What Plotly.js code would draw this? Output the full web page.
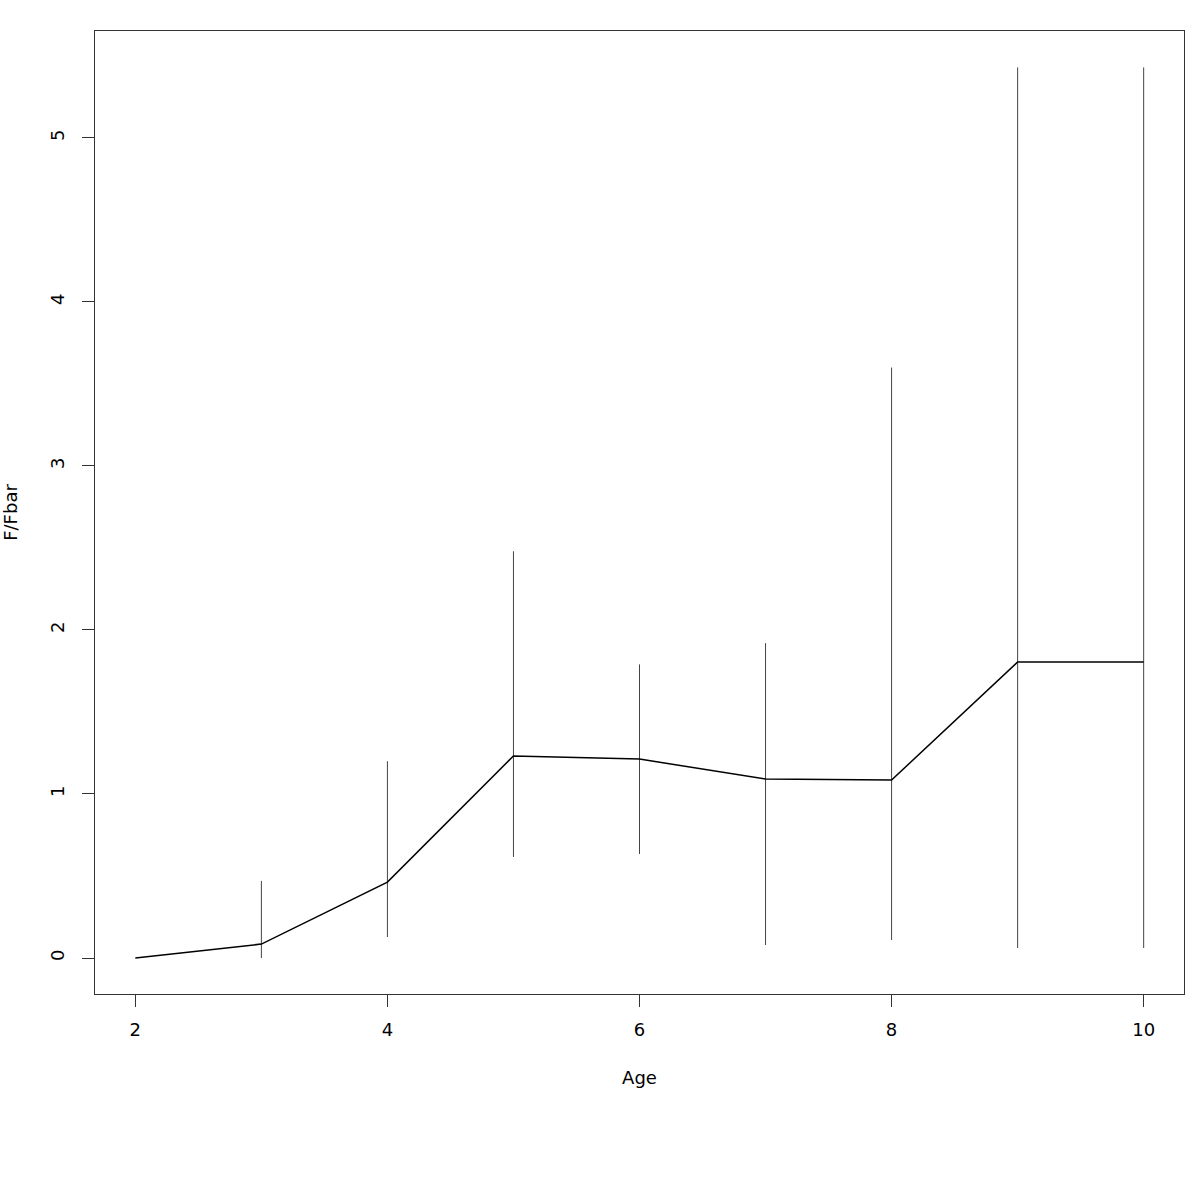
<!DOCTYPE html>
<html>
<head>
<meta charset="utf-8">
<script src="https://cdn.plot.ly/plotly-3.0.1.min.js"></script>
<style>body{margin:0;padding:0;background:#fff}#plot{width:1200px;height:1200px}</style>
</head>
<body>
<div id="plot"></div>
<script>
const ages = [2, 3, 4, 5, 6, 7, 8, 9, 10];
const ratio = [0, 0.085, 0.463, 1.232, 1.213, 1.091, 1.085, 1.805, 1.805];
const upper = [0, 0.47, 1.20, 2.48, 1.79, 1.92, 3.60, 5.43, 5.43];
const lower = [0, 0, 0.128, 0.616, 0.634, 0.079, 0.11, 0.061, 0.061];
const xTicks = [2, 4, 6, 8, 10];
const yTicks = [0, 1, 2, 3, 4, 5];

const errPlus = upper.map((u, i) => u - ratio[i]);
const errMinus = ratio.map((r, i) => r - lower[i]);

const font = {family: 'DejaVu Sans, sans-serif', size: 18, color: '#000'};

const traces = [
  {
    x: ages, y: ratio, type: 'scatter', mode: 'markers',
    marker: {size: 0, opacity: 0},
    error_y: {type: 'data', symmetric: false, array: errPlus, arrayminus: errMinus,
              width: 0, thickness: 1, color: '#444'},
    hoverinfo: 'skip', showlegend: false
  },
  {
    x: ages, y: ratio, type: 'scatter', mode: 'lines',
    line: {color: '#000', width: 1.5}, showlegend: false
  }
];

const layout = {
  width: 1200, height: 1200,
  paper_bgcolor: '#fff', plot_bgcolor: '#fff',
  margin: {l: 95, r: 16, t: 31, b: 206},
  font: font,
  showlegend: false,
  xaxis: {
    range: [1.68, 10.32], tickvals: xTicks, ticktext: xTicks.map(String),
    ticks: 'outside', ticklen: 12, tickcolor: '#333', tickwidth: 1,
    ticklabelstandoff: 7,
    showgrid: false, zeroline: false,
    showline: true, mirror: true, linecolor: '#333', linewidth: 1,
    tickfont: font,
    title: {text: 'Age', font: font, standoff: 32}
  },
  yaxis: {
    range: [-0.2195, 5.652], tickvals: yTicks, ticktext: yTicks.map(String),
    ticks: 'outside', ticklen: 12, tickcolor: '#333', tickwidth: 1, tickangle: -90,
    ticklabelstandoff: 11,
    showgrid: false, zeroline: false,
    showline: true, mirror: true, linecolor: '#333', linewidth: 1,
    tickfont: font,
    title: {text: 'F/Fbar', font: font, standoff: 26}
  }
};

Plotly.newPlot('plot', traces, layout, {displayModeBar: false, staticPlot: true});
</script>
</body>
</html>
